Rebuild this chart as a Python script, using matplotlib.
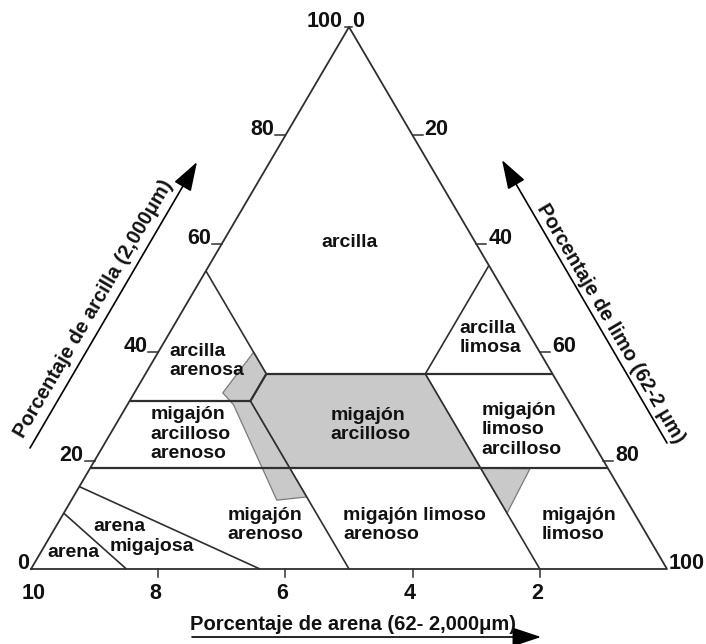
"""Triangulo de texturas del suelo (arcilla / limo / arena)."""
import numpy as np
import matplotlib.pyplot as plt

plt.rcParams['font.family'] = ['Liberation Sans', 'DejaVu Sans']
plt.rcParams['font.weight'] = 'bold'

# ---- data: every point is (clay %, sand %), silt = 100 - clay - sand ----
corners = [(0, 100), (0, 0), (100, 0)]

boundaries = {
    'clay_18': [(18.6, 81.4), (18.6, 0)],
    'clay_31': [(31, 69), (31, 50)],
    'clay_36': [(36, 45), (36, 0)],
    'sandy_clay': [(55, 45), (36, 45)],
    'silty_clay': [(56, 0), (36, 20)],
    'clay_loam_left': [(36, 45), (31, 50)],
    'sand_50': [(31, 50), (0, 50)],
    'sand_20': [(36, 20), (0, 20)],
    'sand': [(10.3, 89.7), (0, 85)],
    'loamy_sand': [(15.2, 84.8), (0, 64)],
}

shade_clay_loam = [(36, 45), (36, 20), (18.6, 20), (18.6, 50), (31, 50)]
shade_strip = [(40, 45), (36, 45), (31, 50), (13.3, 50), (12.7, 55),
               (30.3, 53), (32.5, 53.6)]
shade_tri = [(18.6, 20), (18.5, 12.3), (10.3, 20)]

# class names and where they sit (left edge of text, clay %, sand %)
labels = [
    ('arcilla arenosa', 'arcilla\narenosa', 38.4, 59.0),
    ('arcilla limosa', 'arcilla\nlimosa', 42.6, 11.3),
    ('migajon arc aren', 'migajón\narcilloso\narenoso', 24.9, 68.8),
    ('migajon arcilloso', 'migajón\narcilloso', 26.6, 39.6),
    ('migajon lim arc', 'migajón\nlimoso\narcilloso', 25.7, 16.3),
    ('arena', 'arena', 3.0, 96.0),
    ('arena m1', 'arena', 7.9, 86.3),
    ('arena m2', 'migajosa', 4.2, 85.5),
    ('migajon arenoso', 'migajón\narenoso', 8.1, 65.0),
    ('migajon lim aren', 'migajón limoso\narenoso', 8.1, 46.9),
    ('migajon limoso', 'migajón\nlimoso', 8.1, 15.6),
]
center_label = ('arcilla', 60.2, 19.8)

clay_ticks = [20, 40, 60, 80]
clay_tick_labels = ['20', '40', '60', '80']
silt_tick_labels = ['80', '60', '40', '20']   # right edge, same clay levels
sand_ticks = [80, 60, 40, 20]
sand_tick_labels = ['8', '6', '4', '2']


def to_xy(pts):
    pts = np.asarray(pts, float)
    clay, sand = pts[:, 0], pts[:, 1]
    return 100 - sand - clay / 2, clay


# pixel layout of the 706x644 picture
PX_X = 100 / 636.0
PX_Y = 100 / 542.0

fig = plt.figure(figsize=(7.06, 6.44), dpi=100)
ax = fig.add_axes([0, 0, 1, 1])
ax.set_xlim(-31 * PX_X, (706 - 31) * PX_X)
ax.set_ylim((569 - 644) * PX_Y, 569 * PX_Y)
ax.axis('off')

LINE = '#2f2f2f'
for poly in (shade_strip, shade_clay_loam, shade_tri):
    x, y = to_xy(poly)
    ax.fill(x, y, facecolor='#c9c9c9', edgecolor='#7a7a7a', lw=0.9, zorder=1)

for name, seg in boundaries.items():
    x, y = to_xy(seg)
    lw = 1.6 if name.startswith('clay_') else 1.2
    ax.plot(x, y, color=LINE, lw=lw, zorder=2, solid_capstyle='butt')

x, y = to_xy(corners + corners[:1])
ax.plot(x, y, color=LINE, lw=1.3, zorder=3)

lab_kw = dict(fontsize=14, fontweight='bold', color='#111111', zorder=4)
for _, txt, c, s in labels:
    x, y = to_xy([(c, s)])
    ax.text(x[0], y[0], txt, ha='left', va='center', **lab_kw)
x, y = to_xy([center_label[1:]])
ax.text(x[0], y[0], center_label[0], ha='center', va='center', **lab_kw)

# ticks on the three sides
tick_kw = dict(fontsize=15.5, fontweight='bold', color='#111111')
tl = 10
for c, lab_l, lab_r in zip(clay_ticks, clay_tick_labels, silt_tick_labels):
    xl, yl = to_xy([(c, 100 - c)])
    ax.plot([xl[0] - tl * PX_X, xl[0]], [yl[0], yl[0]], color=LINE, lw=1.1)
    ax.text(xl[0] - (tl + 1) * PX_X, yl[0], lab_l, ha='right', va='baseline', **tick_kw)
    xr, yr = to_xy([(c, 0)])
    ax.plot([xr[0], xr[0] + tl * PX_X], [yr[0], yr[0]], color=LINE, lw=1.1)
    ax.text(xr[0] + (tl + 2) * PX_X, yr[0], lab_r, ha='left', va='baseline', **tick_kw)

ax.plot([50 - 4 * PX_X, 50 + 3 * PX_X], [100, 100], color=LINE, lw=1.1)
ax.text(50 - 6 * PX_X, 100, '100', ha='right', va='baseline', **tick_kw)
ax.text(50 + 3 * PX_X, 100, '0', ha='left', va='baseline', **tick_kw)
ax.text(-2 * PX_X, 0, '0', ha='right', va='baseline', **tick_kw)
ax.text(100 + 2 * PX_X, 0, '100', ha='left', va='baseline', **tick_kw)

for s, lab in zip(sand_ticks, sand_tick_labels):
    xb, yb = to_xy([(0, s)])
    ax.plot([xb[0], xb[0]], [0, -8 * PX_Y], color=LINE, lw=1.1)
    ax.text(xb[0] - 3 * PX_X, -14 * PX_Y, lab, ha='center', va='top', **tick_kw)
ax.text(3 * PX_X, -14 * PX_Y, '10', ha='center', va='top', **tick_kw)

# axis titles with arrows
arrow = dict(arrowstyle='-|>,head_length=0.9,head_width=0.3', color='black',
             lw=1.2, mutation_scale=20, shrinkA=0, shrinkB=0)


def px(x, y):
    return ((x - 31) * PX_X, (569 - y) * PX_Y)


ax.annotate('', xy=px(197, 162), xytext=px(30, 448), arrowprops=arrow)
ax.annotate('', xy=px(502, 160), xytext=px(667, 443), arrowprops=arrow)
ax.annotate('', xy=px(541, 637), xytext=px(192, 637), arrowprops=arrow)

title_kw = dict(fontsize=14.5, fontweight='bold', color='#111111',
                ha='center', va='center', rotation_mode='anchor')
ax.text(*px(94, 309), 'Porcentaje de arcilla (2,000μm)', rotation=59.6, **title_kw)
ax.text(*px(611, 323), 'Porcentaje de limo (62-2 μm)', rotation=-59.6, **title_kw)
ax.text(*px(353, 624), 'Porcentaje de arena (62- 2,000μm)', **title_kw)

fig.savefig('out.png', dpi=100)
